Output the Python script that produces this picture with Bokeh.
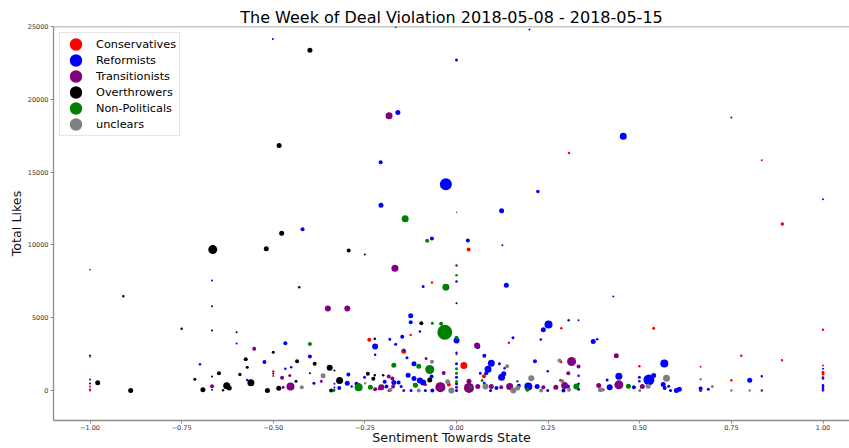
from bokeh.plotting import figure
from bokeh.models import (ColumnDataSource, Legend, LegendItem, FixedTicker,
                          CustomJSTickFormatter, Range1d, Span)
from bokeh.embed import file_html
from bokeh.resources import INLINE

TITLE = "The Week of Deal Violation 2018-05-08 - 2018-05-15"
X_LABEL = "Sentiment Towards State"
Y_LABEL = "Total Likes"
x_ticks = [-1.0, -0.75, -0.5, -0.25, 0.0, 0.25, 0.5, 0.75, 1.0]
y_ticks = [0, 5000, 10000, 15000, 20000, 25000]
X_MIN, X_MAX = -1.0996, 1.0723
Y_MIN, Y_MAX = -2060, 25000

categories = ["Conservatives", "Reformists", "Transitionists",
              "Overthrowers", "Non-Politicals", "unclears"]
colors = ["#ff0000", "#0000ff", "#800080", "#000000", "#008000", "#808080"]

# ---- data: sentiment (x), total likes (y), weight (marker diameter) ----
conservatives_x = [0.307, 0.833, 0.889, 0.033, -0.067, -0.125, -0.238, -0.144, 0.02, -0.021,
                   -0.115, 0.075, 0.286, 0.143, 0.285, 0.284, 0.4, 0.538, 1.0, 0.777,
                   0.888, 0.499, 0.666, 1.0, 1.0, 1.0, 1.0, 0.75, -0.5, -0.5,
                   -1.0, -1.0]
conservatives_y = [16320, 15820, 11440, 9680, 7420, 3820, 3480, 2700, 1720, 410,
                   410, 980, 4280, 3280, 1970, 710, 50, 4280, 4170, 2380,
                   2080, 1670, 1630, 1720, 1260, 1140, 910, 710, 1300, 1000,
                   270, 0]
conservatives_w = [2.5, 2, 3.5, 4, 2.5, 2.5, 4, 5, 7, 4,
                   3, 4, 2.5, 2.5, 3, 3, 3, 3, 2.5, 2.5,
                   2.5, 2.5, 2, 2, 3, 3, 2.5, 2.5, 2.5, 2,
                   2, 2]

reformists_x = [-0.166, 0.199, -0.501, 0.0, -0.16, 0.75, 0.455, -0.207, -0.029, 0.222,
                1.0, -0.206, 0.123, -0.42, -0.067, 0.031, 0.125, 0.0, -0.091, 0.136,
                0.428, -0.667, -0.6, -1.0, -0.7, -0.571, -0.667, -1.0, -0.125, -0.125,
                -0.1, -0.182, -0.148, -0.166, -0.222, -0.222, 0.0, 0.0, -0.4, -0.467,
                -0.451, -0.467, -0.389, -0.295, -0.298, -0.286, -0.333, -0.333, -0.333, -0.32,
                -0.273, -0.251, -0.191, -0.171, -0.196, -0.158, -0.151, -0.144, -0.135, -0.132,
                -0.116, -0.116, -0.1, -0.091, -0.068, -0.124, -0.085, -0.066, 0.0, 0.0,
                0.0, 0.0, 0.251, 0.237, 0.306, 0.333, 0.23, 0.154, 0.373, 0.384,
                0.058, 0.076, 0.095, 0.086, 0.081, 0.065, 0.076, 0.117, 0.131, 0.123,
                0.129, 0.214, 0.249, 0.333, 0.443, 0.418, 0.411, 0.109, 0.17, 0.196,
                0.22, 0.249, 0.292, 0.304, 0.333, 0.333, 0.093, 0.567, 1.0, 1.0,
                1.0, 1.0, 1.0, 0.484, 0.499, 0.499, 0.525, 0.538, 0.564, 0.568,
                0.579, 0.584, 0.6, 0.608, 0.666, 0.687, 0.8, 0.833, -0.524, -0.5]
reformists_y = [24950, 24790, 24150, 22700, 19090, 18750, 17470, 15680, 14170, 13670,
                13140, 12730, 12340, 11080, 10440, 10300, 9980, 7490, 7140, 7230,
                6460, 7560, 3230, 2300, 1810, 730, 50, 760, 5130, 4690,
                4050, 3520, 3690, 3180, 3020, 2450, 3430, 2590, 2340, 1490,
                1600, 3250, 500, 1100, 500, 270, 470, 200, 50, 180,
                460, 910, 270, 550, 600, 550, 270, 2790, 2250, 1050,
                1830, 820, 690, 550, 960, 0, 0, 0, 1830, 910,
                460, 0, 4530, 4170, 4830, 4830, 3500, 3620, 3370, 3520,
                3030, 2380, 1880, 1460, 1190, 1190, 500, 1830, 1530, 910,
                1150, 2010, 1330, 1010, 980, 230, 730, 180, 320, 270,
                270, 0, 0, 270, 460, 90, 0, 1850, 1490, 820,
                360, 230, 90, 230, 910, 640, 730, 1030, 410, 180,
                300, 0, 0, 90, 140, 90, 710, 980, 1950, 1150]
reformists_w = [2, 2, 2, 3, 5, 2, 7, 4, 12, 3.5,
                2, 5, 5, 4, 4, 4, 2, 2.5, 3, 5,
                2, 2, 2, 1.5, 2.5, 2.5, 2, 2, 5, 4,
                2.5, 3, 4, 3, 6, 2.5, 6, 2.5, 4, 2.5,
                2.5, 4, 3, 4, 5, 2.5, 2, 2, 2, 4,
                4, 3, 4, 5, 4, 4, 3, 2.5, 3, 5,
                5, 5, 6, 6, 4, 3, 3, 4, 3, 3,
                3, 3, 8, 5, 2.5, 2, 2.5, 3, 5, 2.5,
                5, 4, 7, 7, 4, 3, 3, 3, 2.5, 7,
                5, 4, 2.5, 2.5, 7, 6, 3, 4, 4, 8,
                5, 3, 4, 4, 2.5, 3, 3, 8, 2, 2.5,
                2.5, 2.5, 2.5, 4, 3, 2.5, 11, 5, 5, 4,
                3, 3, 5, 5, 4, 3, 5, 2.5, 4, 2]

transitionists_x = [-0.184, 0.0, -0.168, -0.552, -0.667, -1.0, -0.351, -0.298, 0.0, -0.476,
                    -0.369, -0.453, -0.473, -0.222, -0.211, -0.205, -0.185, -0.175, -0.173, -0.184,
                    -0.083, -0.144, -0.085, -0.044, -0.035, 0.034, 0.034, 0.058, 0.056, 0.0,
                    0.314, 0.333, 0.305, 0.436, 0.443, 0.388, 0.095, 0.122, 0.145, 0.237,
                    0.271, 0.295, 0.507, 0.666, 0.833, 1.0, -0.455]
transitionists_y = [18870, 8590, 8400, 2860, 300, 70, 5630, 5630, 2490, 870,
                    640, 270, 230, 90, 120, 230, 960, 820, 270, 0,
                    2200, 0, 410, 230, 1210, 180, 640, 270, 3090, 230,
                    1990, 1650, 1190, 2380, 390, 340, 270, 230, 270, 230,
                    230, 340, 270, 0, 0, 0, 1030]
transitionists_w = [7, 2.5, 7, 4, 4, 2, 6, 6, 2, 4,
                    3, 8, 3, 4, 3, 6, 4, 4, 4, 3,
                    3, 3, 3, 10, 4, 10, 5, 5, 6, 3,
                    9, 4, 4, 5, 9, 5, 5, 4, 7, 4,
                    5, 7, 5, 3, 2.5, 2.5, 3]

overthrowers_x = [-0.40, -0.484, -0.477, -0.665, -0.519, -0.294, -0.25, -1.0, -0.909, -0.429,
                  -0.667, -0.75, -0.667, -0.6, -1.0, -0.575, -0.571, -0.648, -0.591, -0.667,
                  -0.714, -0.561, -0.979, -0.889, -0.692, -0.627, -0.62, -0.637, -1.0, 0.0,
                  -0.096, -0.223, -0.435, -0.387, -0.4, -0.346, -0.333, -0.319, -0.438, -0.342,
                  -0.267, -0.242, -0.223, -0.227, -0.2, -0.073, -0.5, -0.516, -0.485]
overthrowers_y = [23370, 16830, 10800, 9680, 9730, 9610, 9340, 8290, 6480, 7100,
                  5790, 4240, 4120, 4000, 2400, 2150, 1600, 1190, 1100, 960,
                  780, 530, 530, 0, 50, 320, 180, 20, 480, 6000,
                  4620, 3550, 2010, 1830, 1190, 1560, 1370, 690, 640, 0,
                  360, 1150, 1050, 800, 1050, 730, 2630, 0, 160]
overthrowers_w = [5, 5, 5, 9, 5, 4, 2, 1.5, 2.5, 2.5,
                  2, 2.5, 2, 2, 2, 4, 3, 4, 3.5, 2,
                  3, 7, 5, 5, 5, 7, 5, 2.5, 2, 2,
                  4, 2.5, 4, 4, 2, 6, 2, 7, 3, 4,
                  4, 4, 2.5, 4, 2.5, 5, 3, 5, 5]

nonpoliticals_x = [0.0, -0.14, -0.08, 0.0, -0.029, -0.066, -0.032, -0.042, 0.0, -0.4,
                   -0.267, -0.235, -0.171, -0.103, -0.073, -0.112, 0.0, 0.0, 0.0, 0.07,
                   0.166, 0.038, 0.193, 0.327, 0.469, -0.335]
nonpoliticals_y = [12250, 11790, 10280, 7920, 7100, 4620, 4000, 4580, 3620, 3200,
                   230, 230, 1740, 1670, 1440, 360, 1490, 1190, 620, 690,
                   640, 230, 50, 270, 300, 0]
nonpoliticals_w = [1.5, 7, 4, 2.5, 7, 3, 15, 4, 4, 4,
                   8, 5, 5, 5, 9, 5, 3, 3, 3, 3,
                   2.5, 3, 4, 6, 5, 3]

unclears_x = [-0.364, -0.422, -0.249, -0.18, -0.067, -0.103, -0.024, -0.014, 0.079, 0.138,
              0.204, 0.281, 0.289, 0.155, 0.167, 0.231, 0.307, 0.393, 0.5, 0.523,
              0.573, 0.666, 0.698, 0.75, 0.8]
unclears_y = [1010, 230, 500, 50, 1970, 0, 600, 0, 270, 1670,
              850, 2060, 640, 0, 180, 0, 50, 50, 0, 300,
              850, 780, 270, 0, 0]
unclears_w = [5, 4, 2.5, 4, 4, 4, 5, 6, 6, 4,
              6, 4, 4, 6, 5, 4, 4, 5, 3, 5,
              7, 2.5, 3, 2.5, 2.5]

series = [
    (conservatives_x, conservatives_y, conservatives_w),
    (reformists_x, reformists_y, reformists_w),
    (transitionists_x, transitionists_y, transitionists_w),
    (overthrowers_x, overthrowers_y, overthrowers_w),
    (nonpoliticals_x, nonpoliticals_y, nonpoliticals_w),
    (unclears_x, unclears_y, unclears_w),
]

FONT = "DejaVu Sans"
SPINE = "#8c8c8c"

p = figure(width=849, height=448, output_backend="svg", toolbar_location=None,
           x_range=Range1d(X_MIN, X_MAX), y_range=Range1d(Y_MIN, Y_MAX),
           title=TITLE)
p.min_border = 0
p.min_border_left = 53
p.min_border_right = 0
p.min_border_top = 26
p.min_border_bottom = 28
p.background_fill_color = "white"
p.border_fill_color = "white"
p.outline_line_color = None
p.grid.visible = False

p.title.text_font = FONT
p.title.text_font_size = "16px"
p.title.text_font_style = "normal"
p.title.text_color = "#000000"
p.title.align = "center"
p.title.standoff = 0
p.title.offset = 5

for ax in (p.xaxis[0], p.yaxis[0]):
    ax.axis_line_color = SPINE
    ax.axis_line_width = 1.3
    ax.major_tick_line_color = SPINE
    ax.major_tick_out = 3
    ax.major_tick_in = 0
    ax.minor_tick_line_color = None
    ax.major_label_text_font = FONT
    ax.major_label_text_font_size = "6.5px"
    ax.major_label_text_color = "#333333"
    ax.axis_label_text_font = FONT
    ax.axis_label_text_font_size = "12.7px"
    ax.axis_label_text_font_style = "normal"
    ax.axis_label_text_color = "#111111"

p.xaxis.ticker = FixedTicker(ticks=x_ticks)
p.xaxis.formatter = CustomJSTickFormatter(code="return tick.toFixed(2).replace('-', '\u2212');")
p.xaxis.axis_label = X_LABEL
p.xaxis.major_label_standoff = 1
p.xaxis.axis_label_standoff = -3

p.yaxis.ticker = FixedTicker(ticks=y_ticks)
p.yaxis.formatter = CustomJSTickFormatter(code="return tick.toFixed(0);")
p.yaxis.axis_label = Y_LABEL
p.yaxis.major_label_standoff = 2
p.yaxis.axis_label_standoff = 1

# top spine
p.add_layout(Span(location=Y_MAX, dimension="width", line_color=SPINE, line_width=1.3))

for (xs, ys, ws), color in zip(series, colors):
    src = ColumnDataSource(dict(x=xs, y=ys, w=ws))
    p.scatter("x", "y", size="w", source=src, fill_color=color, line_color=None)

items = []
for name, color in zip(categories, colors):
    proxy = p.scatter(x=[float("nan")], y=[float("nan")], fill_color=color,
                      line_color=color, line_width=6)
    items.append(LegendItem(label=name, renderers=[proxy]))

legend = Legend(items=items, location="top_left", margin=6, padding=3, spacing=0,
                glyph_width=25, glyph_height=16, label_height=16, label_standoff=8,
                label_text_font=FONT, label_text_font_size="11.3px",
                label_text_color="#000000",
                border_line_color="#cccccc", border_line_width=1,
                background_fill_color="white", background_fill_alpha=0.8)
p.add_layout(legend)

open("out.html", "w").write(file_html(p, INLINE))
